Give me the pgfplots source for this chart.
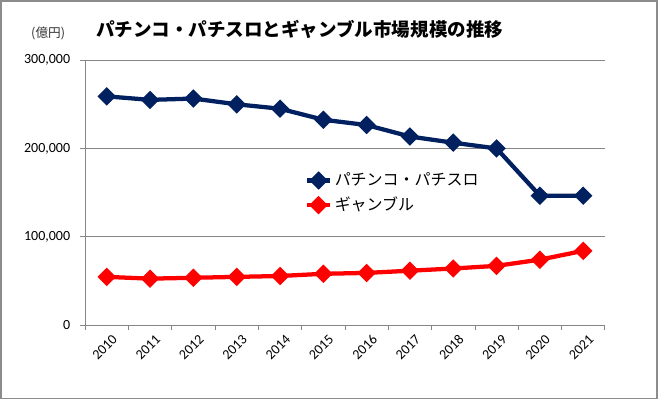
\documentclass[border=0pt]{standalone}
\usepackage{pgfplots}
\pgfplotsset{compat=1.18}
\usepackage{fontspec}
\setmainfont{Carlito}
\newfontfamily\cjk{Noto Sans CJK JP}
\definecolor{navy}{RGB}{0,32,96}
\definecolor{framegray}{RGB}{140,140,140}
\definecolor{gridgray}{RGB}{134,134,134}
\begin{document}
\begin{tikzpicture}
\draw[framegray,line width=1.2pt,fill=white] (0.45pt,0.45pt) rectangle (493.05pt,298.8pt);
\node[anchor=west,font=\cjk\bfseries\fontsize{13.9}{15}\selectfont] at (68.5pt,277.5pt) {パチンコ・パチスロとギャンブル市場規模の推移};
\node[font=\cjk\fontsize{9.5}{11}\selectfont,text=black!80] at (36pt,274.5pt) {(億円)};
\begin{axis}[
  at={(63.75pt,55.5pt)}, anchor=south west,
  scale only axis, width=390pt, height=198.75pt,
  xmin=-0.5, xmax=11.5, ymin=0, ymax=300000,
  axis x line=bottom, axis y line=left,
  axis line style={gridgray,line width=0.6pt,-},
  xtick={0,...,11},
  xticklabels={2010,2011,2012,2013,2014,2015,2016,2017,2018,2019,2020,2021},
  major x tick style={draw=none},
  minor xtick={-0.5,0.5,...,11.5},
  minor x tick style={gridgray,line width=0.6pt},
  minor tick length=3.75pt,
  ytick={0,100000,200000,300000},
  yticklabels={0,{100,000},{200,000},{300,000}},
  major y tick style={gridgray,line width=0.6pt},
  major tick length=3.75pt,
  tick align=outside,
  ymajorgrids, grid style={gridgray,line width=0.6pt},
  scaled y ticks=false,
  yticklabel style={font=\fontsize{10.5}{12}\selectfont,xshift=-4pt},
  xticklabel style={font=\fontsize{10.5}{12}\selectfont,rotate=45,anchor=north east,xshift=4pt,yshift=-1pt},
  legend style={at={(0.415,0.595)},anchor=north west,draw=none,fill=none,
    font=\cjk\fontsize{12}{13}\selectfont,row sep=3pt,
    /tikz/every even column/.append style={column sep=1pt}},
  legend cell align=left,
  clip=false,
]
\addplot[navy,line width=3.2pt,mark=square*,mark size=3.3pt,mark options={solid,rotate=45}] coordinates {
(0,259000)(1,255000)(2,256500)(3,250000)(4,245000)(5,232500)(6,226500)(7,213500)(8,206500)(9,200000)(10,146500)(11,146500)};
\addlegendentry{パチンコ・パチスロ}
\addplot[red,line width=3.2pt,mark=square*,mark size=3.3pt,mark options={solid,rotate=45}] coordinates {
(0,54500)(1,52500)(2,53500)(3,54500)(4,55500)(5,58000)(6,59000)(7,61500)(8,64000)(9,67000)(10,74000)(11,84000)};
\addlegendentry{ギャンブル}
\end{axis}
\end{tikzpicture}
\end{document}
